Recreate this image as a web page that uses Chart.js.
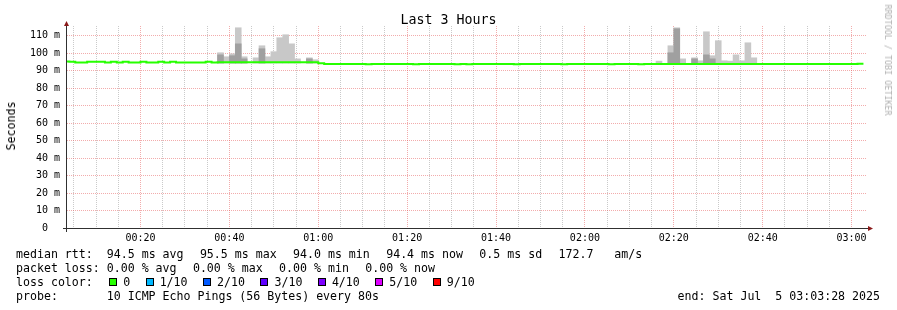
<!DOCTYPE html>
<html>
<head>
<meta charset="utf-8">
<script src="https://cdn.jsdelivr.net/npm/chart.js@4.4.1/dist/chart.umd.min.js"></script>
<style>
  body { margin: 0; background: #fff; }
  #wrap { position: relative; width: 897px; height: 310px; font-family: "DejaVu Sans Mono", monospace; color: #000; overflow: hidden; }
  canvas { position: absolute; left: 0; top: 0; }
  .t { position: absolute; white-space: pre; }
  #title { left: 0; width: 897px; top: 12px; text-align: center; font-size: 13.3px; line-height: 16px; }
  #ylab { left: 11px; top: 126px; font-size: 11.6px; line-height: 14px; transform: translate(-50%, -50%) rotate(-90deg); }
  #credit { left: 888px; top: 60px; font-size: 8.4px; line-height: 10px; color: #b0b0b0; transform: translate(-50%, -50%) rotate(90deg); }
  #legend { left: 16px; top: 247px; font-size: 11.6px; line-height: 14px; }
  #legend .g { margin-right: 2.4px; }
  #legend .box { display: inline-block; width: 6px; height: 6px; border: 1px solid #000; margin-right: 6px; }
  #legend .lbl { margin-right: 15.5px; }
  #end { right: 17px; top: 289px; font-size: 11.6px; line-height: 14px; }
</style>
</head>
<body>
<div id="wrap">
  <canvas id="chart" width="897" height="310"></canvas>
  <div class="t" id="title">Last 3 Hours</div>
  <div class="t" id="ylab">Seconds</div>
  <div class="t" id="credit">RRDTOOL / TOBI OETIKER</div>
  <div class="t" id="legend"></div>
  <div class="t" id="end">end: Sat Jul  5 03:03:28 2025</div>
</div>
<script>
'use strict';

// time axis, seconds since 00:00
const T_START = 208;      // 00:03:28
const T_END = 11008;      // 03:03:28
const STEP = 80;
const FIRST = 160;        // start of first rrd interval

// median rtt per 80s interval (ms)
const median = [
  95.3, 95.1, 94.7, 94.7, 95.1, 95.1, 95.1, 94.7, 95.1, 94.7,
  95.1, 94.7, 94.7, 95.1, 94.7, 94.7, 95.1, 94.7, 95.1, 94.7,
  94.7, 94.7, 94.7, 94.7, 95.1, 94.7, 94.8, 94.8, 94.8, 94.8,
  94.8, 94.8, 94.8, 94.8, 94.8, 94.8, 94.8, 94.8, 94.8, 94.8,
  94.8, 94.8, 94.8, 94.3, 93.9, 93.9, 93.9, 93.9, 93.9, 93.9,
  93.9, 93.7, 93.9, 93.9, 93.9, 93.9, 93.9, 93.9, 93.9, 93.7,
  93.9, 93.9, 93.9, 93.9, 93.9, 93.9, 93.7, 93.9, 93.7, 93.9,
  93.9, 93.9, 93.9, 93.9, 93.9, 93.9, 93.7, 93.9, 93.9, 93.9,
  93.9, 93.9, 93.9, 93.9, 93.7, 93.9, 93.9, 93.9, 93.9, 93.9,
  93.9, 93.9, 93.7, 93.9, 93.9, 93.9, 93.9, 93.7, 93.9, 93.9,
  93.9, 93.9, 93.9, 93.9, 93.9, 93.9, 93.9, 93.9, 93.9, 93.9,
  93.9, 93.9, 93.9, 93.9, 93.9, 93.9, 93.9, 93.9, 93.9, 93.9,
  93.9, 93.9, 93.9, 93.9, 93.9, 93.9, 93.9, 93.9, 93.9, 93.9,
  93.9, 93.9, 93.9, 93.9, 94.0
];

// smoke: intervals with visible spread, outer max and inner band top (ms)
const smokeIdx = [26, 27, 28, 29, 30, 32, 33, 34, 35, 36, 37, 38, 39, 41, 42,
                  100, 102, 103, 104, 106, 107, 108, 109, 110, 111, 112, 113, 114, 115, 116];
const smokeMax = [100.3, 98.0, 99.7, 114.6, 98.0, 97.4, 104.3, 98.0, 100.9, 108.9, 110.6, 105.4, 96.8, 97.4, 96.3,
                  95.5, 104.3, 114.6, 96.8, 97.4, 95.7, 112.3, 98.6, 107.2, 95.7, 95.5, 99.1, 95.7, 106.0, 97.4];
const smokeMid = [99.1, null, 98.6, 105.4, 96.8, null, 102.6, null, null, null, null, null, null, 96.8, null,
                  null, 100.3, 114.0, null, 96.8, null, 99.1, 96.8, null, null, null, null, null, null, null];

const yTicks = [0, 5, 10, 15, 20, 25, 30, 35, 40, 45, 50, 55, 60, 65, 70, 75, 80, 85, 90, 95, 100, 105, 110];
const lossLabels = ['0', '1/10', '2/10', '3/10', '4/10', '5/10', '9/10'];
const lossColors = ['#26ff00', '#00b8ff', '#0059ff', '#5e00ff', '#7e00ff', '#dd00ff', '#ff0000'];

const GRID_MINOR = 'rgba(150,150,150,0.5)';
const GRID_MAJOR = 'rgba(230,90,90,0.5)';

// legend text
const legend = document.getElementById('legend');
legend.innerHTML =
  'median rtt:  <span class="g">94.5 ms avg  </span><span class="g">95.5 ms max  </span><span class="g">94.0 ms min  </span><span class="g">94.4 ms now  </span><span class="g">0.5 ms sd  </span><span class="g">172.7   am/s</span>\n' +
  'packet loss: <span class="g">0.00 % avg  </span><span class="g">0.00 % max  </span><span class="g">0.00 % min  </span><span class="g">0.00 % now</span>\n' +
  '<span class="g">loss color:  </span>' + lossLabels.map((l, i) =>
    `<span class="box" style="background:${lossColors[i]}"></span><span class="lbl">${l}</span>`).join('') + '\n' +
  'probe:       10 ICMP Echo Pings (56 Bytes) every 80s';

const hhmm = s => String(Math.floor(s / 3600)).padStart(2, '0') + ':' + String(Math.floor(s % 3600 / 60)).padStart(2, '0');

const lineData = median.map((v, i) => ({ x: FIRST + i * STEP, y: v }));
lineData.push({ x: FIRST + median.length * STEP, y: median[median.length - 1] });

const mid = i => FIRST + i * STEP + STEP / 2;
const outerData = smokeIdx.map((i, k) => ({ x: mid(i), y: [median[i] - 0.4, smokeMax[k]] }));
const innerData = smokeIdx.map((i, k) => smokeMid[k] == null ? null : ({ x: mid(i), y: [median[i] - 0.4, smokeMid[k]] }))
  .filter(Boolean);

const axesPlugin = {
  id: 'rrdAxes',
  afterDraw(chart) {
    const { ctx, chartArea: a } = chart;
    ctx.save();
    ctx.strokeStyle = '#303030';
    ctx.lineWidth = 1;
    ctx.beginPath();
    ctx.moveTo(a.left - 0.5, a.bottom + 4);
    ctx.lineTo(a.left - 0.5, a.top - 1);
    ctx.moveTo(a.left - 4, a.bottom + 0.5);
    ctx.lineTo(a.right + 2, a.bottom + 0.5);
    ctx.stroke();
    ctx.fillStyle = '#8b1a1a';
    ctx.beginPath();
    ctx.moveTo(a.left - 3, a.top);
    ctx.lineTo(a.left + 2, a.top);
    ctx.lineTo(a.left - 0.5, a.top - 5);
    ctx.closePath();
    ctx.fill();
    ctx.beginPath();
    ctx.moveTo(a.right + 1, a.bottom - 2);
    ctx.lineTo(a.right + 1, a.bottom + 3);
    ctx.lineTo(a.right + 6, a.bottom + 0.5);
    ctx.closePath();
    ctx.fill();
    ctx.restore();
  }
};

const tickFont = { family: 'DejaVu Sans Mono', size: 10 };

new Chart(document.getElementById('chart'), {
  type: 'bar',
  data: {
    datasets: [
      {
        type: 'line', label: 'median', data: lineData,
        borderColor: '#26ff00', borderWidth: 2, stepped: 'before',
        pointRadius: 0, fill: false, order: 0
      },
      {
        label: 'smoke inner', data: innerData, backgroundColor: '#a0a0a0',
        borderWidth: 0, grouped: false, barPercentage: 1, categoryPercentage: 1, order: 1
      },
      {
        label: 'smoke outer', data: outerData, backgroundColor: '#c8c8c8',
        borderWidth: 0, grouped: false, barPercentage: 1, categoryPercentage: 1, order: 2
      }
    ]
  },
  options: {
    responsive: false,
    animation: false,
    events: [],
    layout: { padding: { left: 0, right: 30, top: 26, bottom: 0 } },
    plugins: { legend: { display: false }, tooltip: { enabled: false } },
    scales: {
      x: {
        type: 'linear', min: T_START, max: T_END, offset: false, z: 1,
        afterBuildTicks: s => {
          const t = [];
          for (let v = 300; v < T_END; v += 300) t.push({ value: v });
          s.ticks = t;
        },
        afterFit: s => { s.height = 82; },
        grid: {
          offset: false,
          drawTicks: false,
          color: c => (c.tick && c.tick.value % 1200 === 0) ? GRID_MAJOR : GRID_MINOR
        },
        border: { display: false, dash: [1, 1] },
        ticks: {
          autoSkip: false, maxRotation: 0, minRotation: 0, padding: 4,
          color: '#000', font: tickFont,
          callback: v => v % 1200 === 0 ? hhmm(v) : ''
        }
      },
      y: {
        min: 0, max: 115.6, z: 1,
        afterBuildTicks: s => { s.ticks = yTicks.map(v => ({ value: v })); },
        afterFit: s => { s.width = 67; },
        grid: {
          drawTicks: false,
          color: c => (c.tick && c.tick.value % 10 === 0) ? GRID_MAJOR : GRID_MINOR
        },
        border: { display: false, dash: [1, 1] },
        ticks: {
          padding: 7, color: '#000', font: tickFont,
          callback: v => v === 0 ? '0  ' : (v % 10 === 0 ? v + ' m' : '')
        }
      }
    }
  },
  plugins: [axesPlugin]
});
</script>
</body>
</html>
